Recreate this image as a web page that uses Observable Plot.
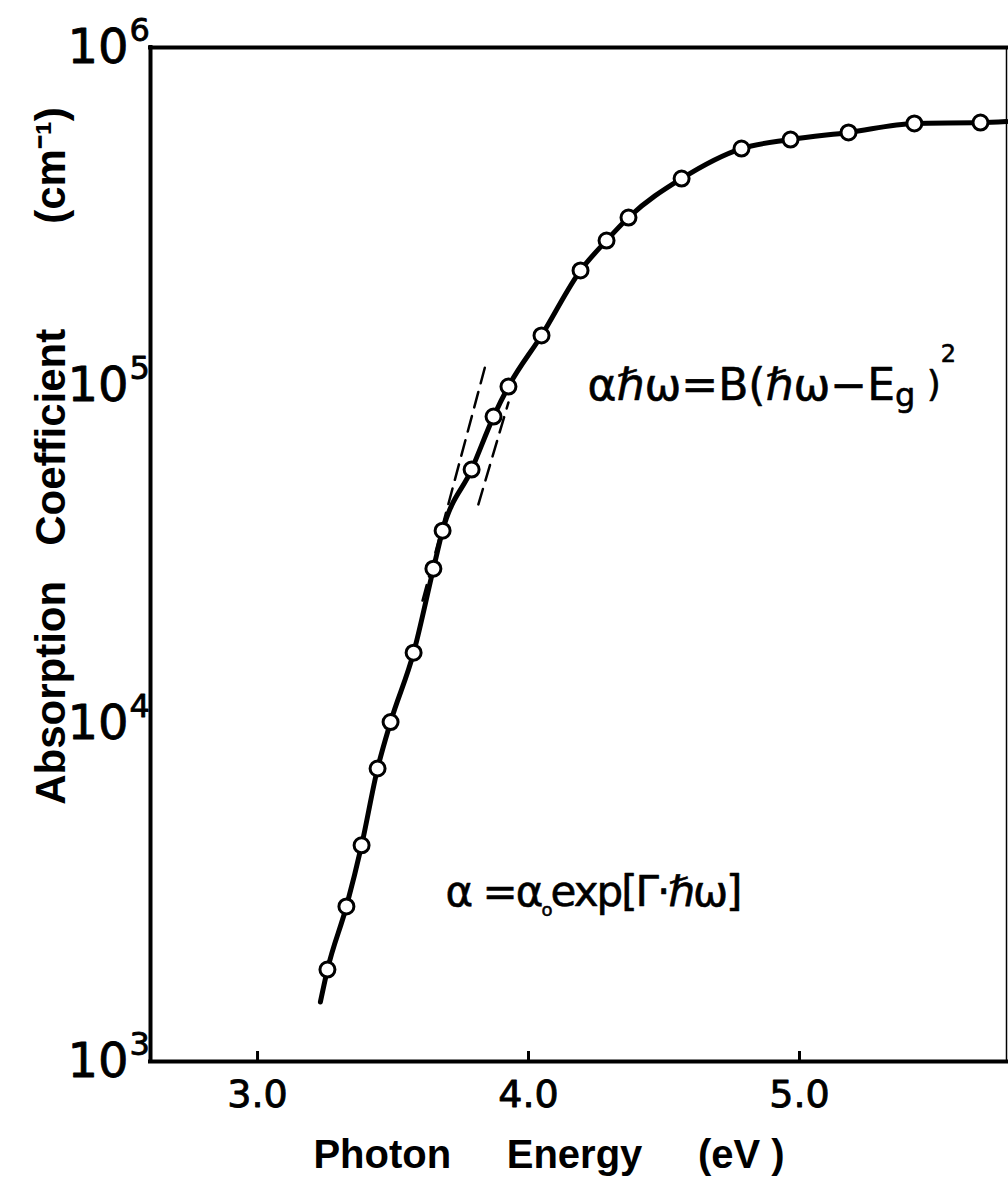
<!DOCTYPE html>
<html><head><meta charset="utf-8">
<script src="https://cdn.jsdelivr.net/npm/d3@7"></script>
<script src="https://cdn.jsdelivr.net/npm/@observablehq/plot@0.6"></script>
<style>
html,body{margin:0;padding:0;background:#fff;}
svg text{white-space:pre;}
</style></head><body><div id="chart"></div>
<script>
// Measured points (photon energy in eV, absorption coefficient in cm^-1)
const energy = [3.258, 3.328, 3.384, 3.443, 3.491, 3.576, 3.649, 3.683, 3.790, 3.871, 3.926, 4.048, 4.192, 4.288, 4.369, 4.565, 4.786, 4.967, 5.181, 5.424, 5.668];
const absorption = [1870, 2875, 4360, 7360, 10100, 16200, 28700, 37200, 56400, 80900, 99300, 140600, 219000, 268500, 314000, 409600, 502500, 534000, 560700, 596000, 599500];
// Solid curve end points
const curveStart = {e: 3.232, a: 1500};
const curveEnd = {e: 5.764, a: 604000};
// Dashed fit lines
const expFitEnergy = [3.609, 3.841];
const expFitAbsorption = [23100, 114600];
const sqFitEnergy = [3.815, 3.926];
const sqFitAbsorption = [44500, 89100];
// Axes
const xTicks = [3.0, 4.0, 5.0];
const yTickExponents = [3, 4, 5, 6];
const xDomain = [2.605, 5.764];
const yDomain = [1e3, 1e6];
const xTitle = "Photon     Energy     (eV )";
const yTitle = "Absorption   Coefficient         (cm⁻¹)";
const formula1 = [["αℏω=B(ℏω−E", null, null], ["g", 32, 6], [" )", 36, -10], ["2", 24, -34]];
const formula2 = [["α =α", null, null], ["o", 18, 10], ["exp[Γ·ℏω]", null, -10]];

const points = energy.map((e, i) => ({e, a: absorption[i]}));
const curve = [curveStart, ...points, curveEnd];
const expFit = expFitEnergy.map((e, i) => ({e, a: expFitAbsorption[i]}));
const sqFit = sqFitEnergy.map((e, i) => ({e, a: sqFitAbsorption[i]}));
const key1 = formula1.map(d => d[0]).join("");
const key2 = formula2.map(d => d[0]).join("");

const plot = Plot.plot({
  width: 1008, height: 1189,
  marginLeft: 150, marginRight: 2, marginTop: 47, marginBottom: 128,
  x: {domain: xDomain, axis: null},
  y: {type: "log", domain: yDomain, axis: null},
  style: {background: "#fff", fontFamily: "'DejaVu Sans', sans-serif", color: "#000", overflow: "visible"},
  marks: [
    Plot.ruleY([yDomain[1], yDomain[0]], {stroke: "#000", strokeWidth: 4, strokeLinecap: "square"}),
    Plot.ruleX([xDomain[0]], {stroke: "#000", strokeWidth: 4, strokeLinecap: "square"}),
    Plot.ruleX([xDomain[1]], {stroke: "#000", strokeWidth: 1.5}),
    Plot.ruleX(xTicks, {stroke: "#000", strokeWidth: 3, insetTop: 1004}),
    Plot.text(xTicks, {x: d => d, frameAnchor: "bottom", text: d => d.toFixed(1), lineAnchor: "top", dy: 19, fontSize: 38, fill: "#000", stroke: "#000", strokeWidth: 0.9}),
    Plot.text(yTickExponents, {y: d => 10 ** d, frameAnchor: "left", text: () => "10", textAnchor: "end", dx: -22, fontSize: 48, fill: "#000", stroke: "#000", strokeWidth: 0.8}),
    Plot.text(yTickExponents, {y: d => 10 ** d, frameAnchor: "left", text: d => String(d), textAnchor: "start", dx: -21, dy: -17, fontSize: 32, fill: "#000", stroke: "#000", strokeWidth: 0.8}),
    Plot.line(curve, {x: "e", y: "a", curve: "monotone-x", stroke: "#000", strokeWidth: 5}),
    Plot.line(expFit, {x: "e", y: "a", stroke: "#000", strokeWidth: 2.5, strokeDasharray: "16,9"}),
    Plot.line(sqFit, {x: "e", y: "a", stroke: "#000", strokeWidth: 2.5, strokeDasharray: "16,9"}),
    Plot.dot(points, {x: "e", y: "a", r: 7.5, stroke: "#000", strokeWidth: 3, fill: "#fff"}),
    Plot.text([key1], {x: () => 4.218, y: () => 90300, text: d => d, textAnchor: "start", lineAnchor: "bottom", fontSize: 44, fill: "#000", stroke: "#000", strokeWidth: 0.6}),
    Plot.text([key2], {x: () => 3.694, y: () => 2894, text: d => d, textAnchor: "start", lineAnchor: "bottom", fontSize: 42, fill: "#000", stroke: "#000", strokeWidth: 0.6}),
    Plot.text([xTitle], {frameAnchor: "bottom", text: d => d, textAnchor: "middle", dx: -29.5, dy: 94, lineAnchor: "middle", fontSize: 40, fontWeight: "bold", fontFamily: "'Liberation Sans', Arial, sans-serif", fill: "#000"}),
    Plot.text([yTitle], {frameAnchor: "left", text: d => d, textAnchor: "middle", rotate: -90, dx: -99, dy: -98.5, lineAnchor: "middle", fontSize: 42, fontWeight: "bold", fontFamily: "'Liberation Sans', Arial, sans-serif", fill: "#000"})
  ]
});

function richText(el, parts, spacing) {
  const s = d3.select(el);
  s.text(null);
  if (spacing) s.attr("letter-spacing", spacing);
  for (const [t, size, dy] of parts) {
    const ts = s.append("tspan").text(t);
    if (size) ts.attr("font-size", size);
    if (dy) ts.attr("dy", dy);
  }
}
d3.select(plot).selectAll("text").each(function () {
  if (this.textContent === key1) richText(this, formula1, null);
  else if (this.textContent === key2) richText(this, formula2, "-2px");
});

document.getElementById("chart").appendChild(plot);
</script>
</body></html>
